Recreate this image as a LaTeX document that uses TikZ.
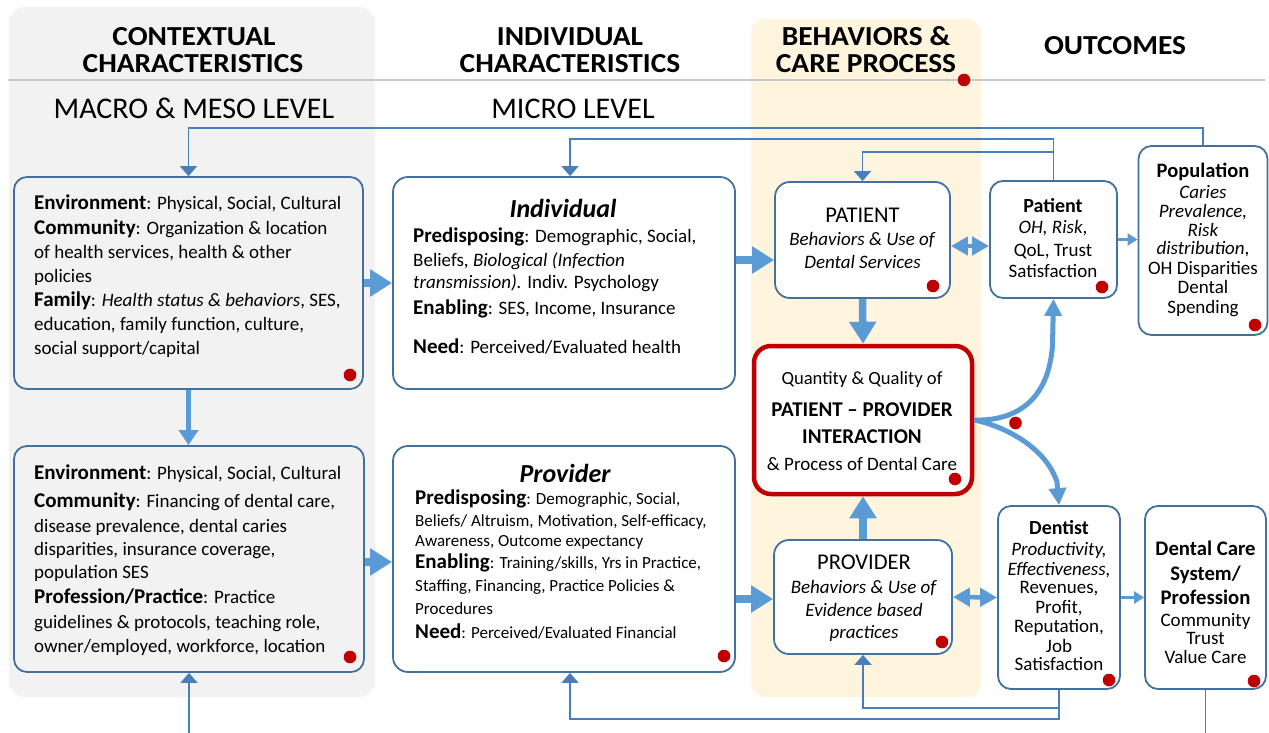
\documentclass[tikz,border=0pt]{standalone}
\usepackage{fontspec}
\setmainfont{Carlito}
\usetikzlibrary{arrows.meta,calc}
\definecolor{boxblue}{HTML}{41719C}
\definecolor{linkblue}{HTML}{4A7EBB}
\definecolor{arrowblue}{HTML}{5B9BD5}
\definecolor{dotred}{HTML}{C00000}
\definecolor{panelgray}{HTML}{F2F2F2}
\definecolor{panelcream}{HTML}{FFF5DF}
\newcommand\lab[1]{{\fontsize{21}{24}\selectfont\bfseries #1}}
\newcommand\wide[1]{\scalebox{1.07}[1]{#1}}
\begin{document}
\begin{tikzpicture}[x=1pt,y=-1pt,
  box/.style={draw=boxblue,line width=1.8pt,rounded corners=13pt,fill=white,inner sep=0pt},
  ebox/.style={box,fill=panelgray},
  redbox/.style={draw=dotred,line width=4.5pt,rounded corners=17pt,fill=white,inner sep=0pt},
  tl/.style={anchor=base west,inner sep=0pt,font=\fontsize{19}{23}\selectfont},
  tc/.style={anchor=base,inner sep=0pt,font=\fontsize{19}{23}\selectfont},
  hdr/.style={anchor=base,inner sep=0pt,font=\fontsize{27.5}{27}\selectfont\bfseries},
  bigarrow/.style={draw=arrowblue,line width=7.5pt,-{Triangle[length=22pt,width=26pt]}},
  midarrow/.style={draw=arrowblue,line width=5pt,-{Triangle[length=15pt,width=19pt]}},
  dblarrow/.style={draw=arrowblue,line width=4.5pt,{Triangle[length=17pt,width=18pt]}-{Triangle[length=17pt,width=18pt]}},
  smallarrow/.style={draw=arrowblue,line width=2.5pt,-{Triangle[length=10pt,width=12pt]}},
  curvearrow/.style={draw=arrowblue,line width=5pt,-{Triangle[length=17pt,width=17pt]}},
  fbline/.style={draw=linkblue,line width=1.8pt},
  fbarrow/.style={fbline,-{Triangle[length=10pt,width=17pt]}},
  reddot/.style={fill=dotred}
]
\useasboundingbox (0,0) rectangle (1269,733);
% panels
\fill[panelgray,rounded corners=16pt] (9,7) rectangle (375,697);
\fill[panelcream,rounded corners=14pt] (751,19) rectangle (981,697);
\draw[black!22,line width=1.5pt] (8,80) -- (1265,80);

% headers
\node[hdr] (hC1) at (194,46) {\wide{CONTEXTUAL}};
\node[hdr] (hC2) at (193,73) {\wide{CHARACTERISTICS}};
\node[hdr] (hI1) at (570,46) {\wide{INDIVIDUAL}};
\node[hdr] (hI2) at (570,73) {\wide{CHARACTERISTICS}};
\node[hdr] (hB1) at (866,46) {\wide{BEHAVIORS \&}};
\node[hdr] (hB2) at (866,73) {\wide{CARE PROCESS}};
\node[hdr] (hO) at (1115,55) {\wide{OUTCOMES}};
\node[anchor=base,inner sep=0pt,font=\fontsize{30}{30}\selectfont] (lvlA) at (194,119) {MACRO \& MESO LEVEL};
\node[anchor=base,inner sep=0pt,font=\fontsize{30}{30}\selectfont] (lvlB) at (573,119) {MICRO LEVEL};

% feedback coordinates
\coordinate (fbT1) at (0,128);
\coordinate (fbT2) at (0,139);
\coordinate (fbT3) at (0,152);
\coordinate (fbA) at (0,708);
\coordinate (fbB) at (0,719);
\coordinate (botL) at (189,733);
\coordinate (rowA) at (0,260);
\coordinate (rowB) at (0,599);
\coordinate (rowC) at (0,246);

% boxes
\node[ebox,minimum width=349pt,minimum height=212pt] (env1) at (188.5,283) {};
\node[ebox,minimum width=350pt,minimum height=226pt] (env2) at (189,559) {};
\node[box,rounded corners=15pt,minimum width=342pt,minimum height=212pt] (indiv) at (564,283) {};
\node[box,rounded corners=15pt,minimum width=342pt,minimum height=226pt] (prov) at (564,559) {};
\node[box,rounded corners=15pt,minimum width=175pt,minimum height=116pt] (patient) at (862.5,240) {};
\node[redbox,minimum width=218pt,minimum height=148pt] (inter) at (863,420) {};
\node[box,rounded corners=15pt,minimum width=178pt,minimum height=114pt] (provb) at (863,597) {};
\node[box,minimum width=127pt,minimum height=117pt] (pout) at (1053.5,239.5) {};
\node[box,minimum width=129pt,minimum height=189pt] (pop) at (1203,240.5) {};
\node[box,minimum width=122pt,minimum height=183pt] (dent) at (1059,597.5) {};
\node[box,minimum width=121pt,minimum height=183pt] (dcs) at (1205.5,597.5) {};

% texts: env1
\foreach \n/\yy/\lintext in {
 1/209/{\lab{Environment}: Physical, Social, Cultural},
 2/234/{\lab{Community}: Organization \& location},
 3/258/{of health services, health \& other},
 4/282/{policies},
 5/306/{\lab{Family}: \textit{Health status \& behaviors}, SES,},
 6/330/{education, family function, culture,},
 7/354/{social support/capital}}
 \node[tl] (envA\n) at (34,\yy) {\lintext};
% env2
\foreach \n/\yy/\lintext in {
 1/479/{\lab{Environment}: Physical, Social, Cultural},
 2/507/{\lab{Community}: Financing of dental care,},
 3/532/{disease prevalence, dental caries},
 4/555/{disparities, insurance coverage,},
 5/578/{population SES},
 6/603/{\lab{Profession/Practice}: Practice},
 7/628/{guidelines \& protocols, teaching role,},
 8/652/{owner/employed, workforce, location}}
 \node[tl] (envB\n) at (34,\yy) {\lintext};
% individual
\node[tc,font=\fontsize{26}{28}\selectfont\bfseries\itshape] (indT) at (563,217) {Individual};
\foreach \n/\yy/\lintext in {
 1/242/{\lab{Predisposing}: Demographic, Social,},
 2/266/{Beliefs, \textit{Biological (Infection}},
 3/288/{\textit{transmission).} Indiv. Psychology},
 4/314/{\lab{Enabling}: SES, Income, Insurance},
 5/353/{\lab{Need}: Perceived/Evaluated health}}
 \node[tl] (indL\n) at (413,\yy) {\lintext};
% provider
\node[tc,font=\fontsize{26}{28}\selectfont\bfseries\itshape] (prvT) at (565,482) {Provider};
\foreach \n/\yy/\lintext in {
 1/504/{\lab{Predisposing}: Demographic, Social,},
 2/526/{Beliefs/ Altruism, Motivation, Self-efficacy,},
 3/546/{Awareness, Outcome expectancy},
 4/568/{\lab{Enabling}: Training/skills, Yrs in Practice,},
 5/591/{Staffing, Financing, Practice Policies \&},
 6/614/{Procedures},
 7/638/{\lab{Need}: Perceived/Evaluated Financial}}
 \node[tl,font=\fontsize{17}{20}\selectfont] (prvL\n) at (415,\yy) {\lintext};
% PATIENT
\node[tc,font=\fontsize{22.5}{24}\selectfont] (patL1) at (862.5,222) {PATIENT};
\node[tc] (patL2) at (862.5,245) {\textit{Behaviors \& Use of}};
\node[tc] (patL3) at (862.5,268) {\textit{Dental Services}};
% interaction
\node[tc,font=\fontsize{18.6}{22}\selectfont] (intL1) at (862,384) {Quantity \& Quality of};
\node[tc,font=\fontsize{21}{24}\selectfont\bfseries] (intL2) at (862,416) {PATIENT – PROVIDER};
\node[tc,font=\fontsize{21}{24}\selectfont\bfseries] (intL3) at (862,443) {INTERACTION};
\node[tc] (intL4) at (862,470) {\& Process of Dental Care};
% PROVIDER
\node[tc,font=\fontsize{22.5}{24}\selectfont] (pvbL1) at (864,569) {PROVIDER};
\node[tc] (pvbL2) at (864,593) {\textit{Behaviors \& Use of}};
\node[tc] (pvbL3) at (864,616) {\textit{Evidence based}};
\node[tc] (pvbL4) at (864,638) {\textit{practices}};
% patient outcome
\node[tc,font=\fontsize{20}{22}\selectfont\bfseries] (poL1) at (1053,212) {Patient};
\node[tc] (poL2) at (1053,233) {\textit{OH, Risk},};
\node[tc] (poL3) at (1053,256) {QoL, Trust};
\node[tc] (poL4) at (1053,277) {Satisfaction};
% population
\node[tc,font=\fontsize{20.5}{22}\selectfont\bfseries] (ppL1) at (1203,178) {Population};
\foreach \n/\yy/\lintext in {
 2/198/{\textit{Caries}},
 3/217/{\textit{Prevalence,}},
 4/236/{\textit{Risk}},
 5/254/{\textit{distribution},},
 6/274/{OH Disparities},
 7/293/{Dental},
 8/313/{Spending}}
 \node[tc] (ppL\n) at (1203,\yy) {\lintext};
% dentist
\node[tc,font=\fontsize{20}{22}\selectfont\bfseries] (dnL1) at (1059,534) {Dentist};
\foreach \n/\yy/\lintext in {
 2/555/{\textit{Productivity,}},
 3/575/{\textit{Effectiveness,}},
 4/593/{Revenues,},
 5/613/{Profit,},
 6/632/{Reputation,},
 7/652/{Job},
 8/670/{Satisfaction}}
 \node[tc] (dnL\n) at (1059,\yy) {\lintext};
% dental care system
\node[tc,font=\fontsize{20.7}{22}\selectfont\bfseries] (dcL1) at (1205.5,555) {Dental Care};
\node[tc,font=\fontsize{20.7}{22}\selectfont\bfseries] (dcL2) at (1205.5,580) {System/};
\node[tc,font=\fontsize{20.7}{22}\selectfont\bfseries] (dcL3) at (1205.5,604) {Profession};
\node[tc] (dcL4) at (1205.5,626) {Community};
\node[tc] (dcL5) at (1205.5,644) {Trust};
\node[tc] (dcL6) at (1205.5,663) {Value Care};

% feedback lines
\draw[fbarrow] (pop.north) -- (pop.north |- fbT1) -| (env1.north);
\draw[fbarrow] (pout.north) -- (pout.north |- fbT2) -| ($(indiv.north)+(6,0)$);
\draw[fbarrow] (pout.north |- fbT3) -| (patient.north);
\draw[fbarrow] (dent.south) -- (dent.south |- fbB) -| ($(prov.south)+(6,0)$);
\draw[fbarrow] (dent.south |- fbA) -| (provb.south);
\draw[fbline] (dcs.south) -- (dcs.south |- botL);
\draw[fbarrow] (botL) -- (env2.south);

% thick arrows
\draw[bigarrow] (env1.east) -- (indiv.west);
\draw[bigarrow] ($(env2.east)+(0,3)$) -- ($(prov.west)+(0,3)$);
\draw[midarrow] (env1.south) -- (env1.south |- env2.north);
\draw[bigarrow] (indiv.east |- rowA) -- (patient.west |- rowA);
\draw[bigarrow] (prov.east |- rowB) -- (provb.west |- rowB);
\draw[bigarrow] (patient.south) -- (inter.north);
\draw[bigarrow] (provb.north) -- (inter.south);
\draw[dblarrow] (patient.east |- rowC) -- (pout.west |- rowC);
\draw[dblarrow] (provb.east) -- (dent.west);
\draw[smallarrow] (pout.east) -- (pop.west |- pout.east);
\draw[smallarrow] (dent.east) -- (dcs.west);
\draw[curvearrow] (inter.east) .. controls (1005,421) and (1048,410) .. (1052.5,345) -- (pout.south);
\draw[curvearrow] (inter.east) .. controls (1000,425) and (1045,445) .. (1057,482) -- (dent.north);

% red dots
\foreach \xx/\yy in {350/375, 350/657, 724/656, 933/286, 1102/287, 1255/325, 955/479, 1015.5/423, 942/642, 1109/680, 1254/681, 964/80}
 \fill[reddot] (\xx,\yy) circle[radius=6.3pt];
\end{tikzpicture}
\end{document}
